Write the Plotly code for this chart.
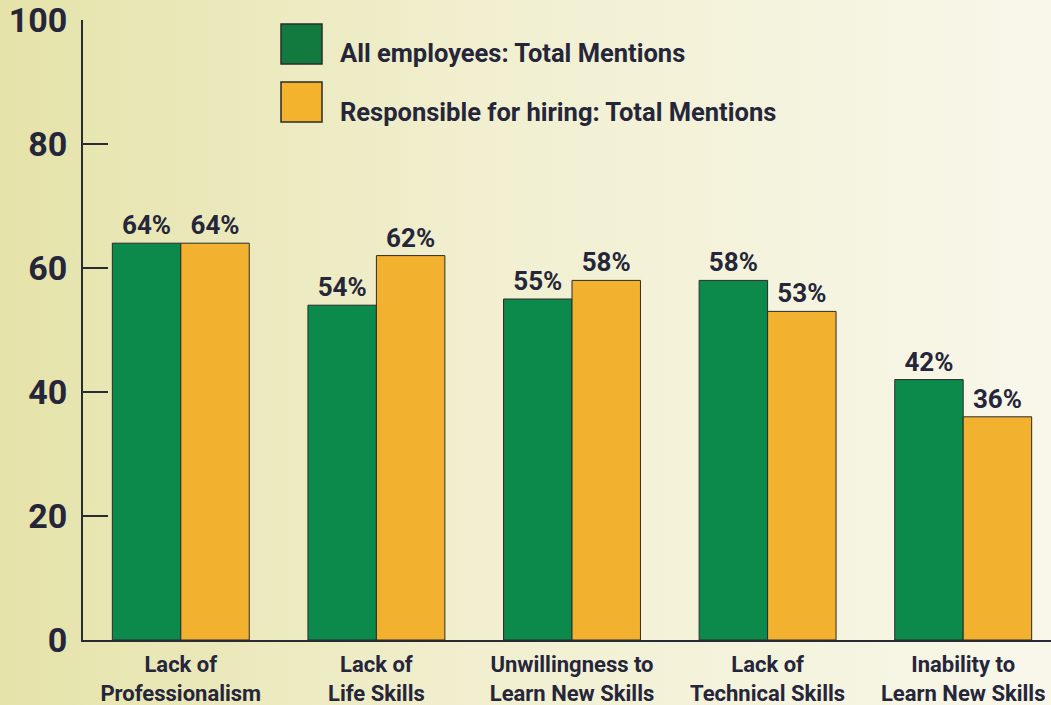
import base64
import plotly.graph_objects as go

categories = ["Lack of<br>Professionalism", "Lack of<br>Life Skills", "Unwillingness to<br>Learn New Skills",
              "Lack of<br>Technical Skills", "Inability to<br>Learn New Skills"]
series_names = ["All employees: Total Mentions", "Responsible for hiring: Total Mentions"]
all_employees = [64, 54, 55, 58, 42]
hiring = [64, 62, 58, 53, 36]
y_ticks = [0, 20, 40, 60, 80, 100]

GREEN = "#0b8a4b"
ORANGE = "#f2b12f"
TXT = "#25263a"
FONT = "Roboto, Arial, sans-serif"

W, H = 1051, 705
ML, MR, MT, MB = 83, 0, 20, 65
PW, PH = W - ML - MR, H - MT - MB

fig = go.Figure()
for name, vals, col in [(series_names[0], all_employees, GREEN), (series_names[1], hiring, ORANGE)]:
    fig.add_trace(go.Bar(
        x=categories, y=vals, name=name,
        marker=dict(color=col, line=dict(color="#2b2b2b", width=1)),
        text=[f"{v}%" for v in vals], textposition="outside",
        textfont=dict(family=FONT, size=26, color=TXT, weight="bold"),
        constraintext="none", cliponaxis=False, showlegend=False,
    ))

svg = ('<svg xmlns="http://www.w3.org/2000/svg" width="1051" height="705" preserveAspectRatio="none">'
       '<defs><linearGradient id="g" x1="0" x2="1" y1="0" y2="0">'
       '<stop offset="0" stop-color="#e5e3a9"/><stop offset="0.45" stop-color="#f1efcf"/>'
       '<stop offset="1" stop-color="#f8f7ea"/></linearGradient></defs>'
       '<rect width="100%" height="100%" fill="url(#g)"/></svg>')
src = "data:image/svg+xml;base64," + base64.b64encode(svg.encode()).decode()


def px_x(p):
    return (p - ML) / PW


def px_y(p):
    return (MT + PH - p) / PH


shapes = []
annotations = []
legend_rows = [(series_names[0], "#137a3f", 24, 64, 53), (series_names[1], "#f3b32c", 82, 122, 112)]
for name, col, y0, y1, ty in legend_rows:
    shapes.append(dict(type="rect", xref="paper", yref="paper",
                       x0=px_x(281), x1=px_x(322), y0=px_y(y1), y1=px_y(y0),
                       fillcolor=col, line=dict(color="#2b2b2b", width=1.5)))
    annotations.append(dict(xref="paper", yref="paper", x=px_x(338), y=px_y(ty),
                            xanchor="left", yanchor="middle", showarrow=False, text=name,
                            font=dict(family=FONT, size=25.5, color=TXT, weight="bold")))

fig.update_layout(
    width=W, height=H,
    margin=dict(l=ML, r=MR, t=MT, b=MB, autoexpand=False),
    paper_bgcolor="#f1efcf", plot_bgcolor="rgba(0,0,0,0)",
    barmode="group", bargap=0.3, bargroupgap=0,
    images=[dict(source=src, xref="paper", yref="paper", x=-ML / PW, y=(PH + MT) / PH,
                 sizex=W / PW, sizey=H / PH, xanchor="left", yanchor="top",
                 sizing="stretch", layer="below")],
    shapes=shapes, annotations=annotations,
    xaxis=dict(range=[-0.5, -0.5 + PW / 195.6], showline=True, linecolor="#2a2a35", linewidth=2,
               ticks="", showgrid=False, zeroline=False, tickangle=0, automargin=False,
               ticklabelstandoff=4, ticklabeloverflow="allow",
               tickfont=dict(family=FONT, size=22, color=TXT, weight="bold")),
    yaxis=dict(range=[0, 100], tickvals=y_ticks, showline=True, linecolor="#2a2a35", linewidth=2,
               ticks="inside", ticklen=25, tickwidth=2, tickcolor="#2a2a35", automargin=False,
               showgrid=False, zeroline=False, ticklabelstandoff=7, ticklabeloverflow="allow",
               tickfont=dict(family=FONT, size=34, color=TXT, weight="bold")),
    font=dict(family=FONT),
)

fig.write_html("out.html", config={"displayModeBar": False},
               post_script="document.body.style.margin='0';document.body.style.overflow='hidden';")
